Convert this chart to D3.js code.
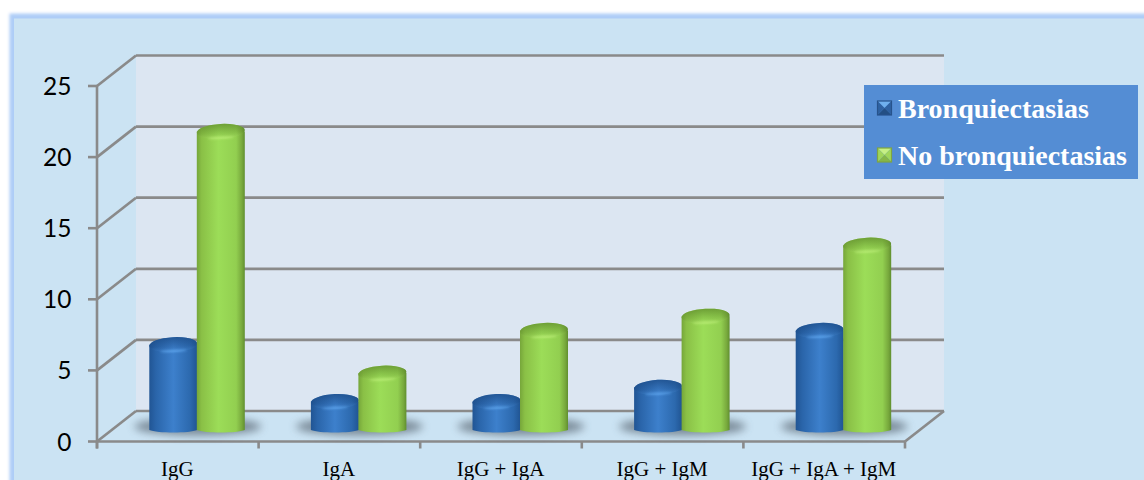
<!DOCTYPE html>
<html>
<head>
<meta charset="utf-8">
<script src="https://cdn.jsdelivr.net/npm/d3@7/dist/d3.min.js"></script>
<style>
html,body{margin:0;padding:0;background:#fff;overflow:hidden}
svg{display:block}
</style>
</head>
<body>
<svg id="chart" width="1144" height="480"></svg>
<script>
// Immunoglobulin deficiency groups by bronchiectasis status
const categories = ["IgG", "IgA", "IgG + IgA", "IgG + IgM", "IgG + IgA + IgM"];
const bronquiectasias = [6, 2, 2, 3, 7];
const noBronquiectasias = [21, 4, 7, 8, 13];
const yTicks = [0, 5, 10, 15, 20, 25];
const seriesNames = ["Bronquiectasias", "No bronquiectasias"];

const svg = d3.select("#chart");
const defs = svg.append("defs");

// Plot box: front plane plus the depth offset of the back wall
const front = {left: 97, right: 905, bottom: 441.5, top: 86};
const depth = {dx: 39, dy: -30.5};
const y = d3.scaleLinear().domain([0, 25]).range([front.bottom, front.top]);
const x = d3.scaleBand().domain(categories).range([front.left, front.right]);
const gridColor = "#8a8a8a";

// Horizontal shading for cylinder bodies and a top-lit fade for the caps
function hGrad(id, stops) {
  const g = defs.append("linearGradient").attr("id", id);
  stops.forEach(([o, c]) => g.append("stop").attr("offset", o).attr("stop-color", c));
}
hGrad("blueBody", [[0, "#215594"], [0.14, "#2a65aa"], [0.5, "#3d80cc"], [0.85, "#2c69ae"], [1, "#205492"]]);
hGrad("greenBody", [[0, "#76a63a"], [0.1, "#8ac046"], [0.45, "#9cdd58"], [0.82, "#92cf50"], [0.94, "#78a93d"], [1, "#608f2f"]]);

function capFade(id, dark, light) {
  const g = defs.append("linearGradient").attr("id", id).attr("x1", 0).attr("x2", 0).attr("y1", 0).attr("y2", 1);
  g.append("stop").attr("offset", 0).attr("stop-color", dark).attr("stop-opacity", 0.75);
  g.append("stop").attr("offset", 0.6).attr("stop-color", dark).attr("stop-opacity", 0.25);
  g.append("stop").attr("offset", 1).attr("stop-color", light).attr("stop-opacity", 0.25);
}
capFade("blueCap", "#1b4a85", "#5aa0ec");
capFade("greenCap", "#5f8c2c", "#b8ee74");

defs.append("filter").attr("id", "soft").attr("x", "-5%").attr("y", "-5%").attr("width", "110%").attr("height", "110%")
  .append("feGaussianBlur").attr("stdDeviation", 1.6);
defs.append("filter").attr("id", "shadowBlur").attr("x", "-30%").attr("y", "-100%").attr("width", "160%").attr("height", "300%")
  .append("feGaussianBlur").attr("stdDeviation", 4);
defs.append("filter").attr("id", "glint").attr("x", "-30%").attr("y", "-300%").attr("width", "160%").attr("height", "700%")
  .append("feGaussianBlur").attr("stdDeviation", 1.1);

// Slide panel with its pale blue border
svg.append("rect").attr("x", 9.5).attr("y", 13.5).attr("width", 1200).attr("height", 520)
  .attr("fill", "#aecdf7").attr("filter", "url(#soft)");
svg.append("rect").attr("x", 14).attr("y", 18.5).attr("width", 1140).attr("height", 480).attr("fill", "#cbe3f3");

// Back wall
svg.append("rect")
  .attr("x", front.left + depth.dx).attr("y", y(25) + depth.dy)
  .attr("width", front.right - front.left)
  .attr("height", y(0) - y(25))
  .attr("fill", "#dce6f2");

// Gridlines: one run across the back wall, one diagonal down the side wall
const grid = svg.append("g").attr("stroke", gridColor).attr("stroke-width", 2.7).attr("fill", "none");
grid.selectAll("line.back").data(yTicks).join("line").attr("class", "back")
  .attr("x1", front.left + depth.dx).attr("x2", front.right + depth.dx)
  .attr("y1", d => y(d) + depth.dy).attr("y2", d => y(d) + depth.dy);
grid.selectAll("line.side").data(yTicks).join("line").attr("class", "side")
  .attr("x1", front.left).attr("x2", front.left + depth.dx)
  .attr("y1", d => y(d)).attr("y2", d => y(d) + depth.dy);
grid.append("line").attr("x1", front.right).attr("x2", front.right + depth.dx)
  .attr("y1", y(0)).attr("y2", y(0) + depth.dy);

// Front axes and tick marks
const axisG = svg.append("g").attr("stroke", gridColor).attr("stroke-width", 2.6);
axisG.append("line").attr("x1", front.left).attr("x2", front.left).attr("y1", y(25)).attr("y2", y(0) + 7);
axisG.append("line").attr("x1", front.left).attr("x2", front.right).attr("y1", y(0)).attr("y2", y(0));
axisG.selectAll("line.yt").data(yTicks).join("line").attr("class", "yt")
  .attr("x1", front.left - 9).attr("x2", front.left).attr("y1", d => y(d)).attr("y2", d => y(d));
const xEdges = categories.map(c => x(c)).concat(front.right);
axisG.selectAll("line.xt").data(xEdges).join("line").attr("class", "xt")
  .attr("x1", d => d).attr("x2", d => d).attr("y1", y(0)).attr("y2", y(0) + 7);

svg.selectAll("text.ylab").data(yTicks).join("text").attr("class", "ylab")
  .attr("x", 71.5).attr("y", d => y(d) + 9)
  .attr("text-anchor", "end")
  .attr("font-family", "Lato, 'Open Sans', sans-serif").attr("font-size", 24.5).attr("fill", "#000")
  .text(d => d);

svg.selectAll("text.xlab").data(categories).join("text").attr("class", "xlab")
  .attr("x", d => x(d) + x.bandwidth() / 2 - 0.5).attr("y", 476)
  .attr("text-anchor", "middle")
  .attr("font-family", "'Liberation Serif', serif").attr("font-size", 21).attr("fill", "#000")
  .text(d => d);

// Cylinders stand mid-way between the front and back planes
const barW = 48;
const baseDy = -11.5;
const capRy = 7.5, footRy = 2.5;
const centre = c => x(c) + x.bandwidth() / 2 + depth.dx / 2 - 0.5;
const rows = categories.map((c, i) => ({c, a: bronquiectasias[i], b: noBronquiectasias[i]}));

// Floor shadows sit beneath each pair
svg.append("g").selectAll("ellipse").data(rows).join("ellipse")
  .attr("cx", d => centre(d.c) + 1)
  .attr("cy", y(0) - 15)
  .attr("rx", barW * 1.32).attr("ry", 9)
  .attr("fill", "#4f5b68").attr("opacity", 0.66)
  .attr("filter", "url(#shadowBlur)");

function cylinder(sel, left, value, body, cap, glint) {
  const top = y(value) + baseDy;
  const base = y(0) + baseDy;
  const r = barW / 2;
  const p = d3.path();
  p.moveTo(left, top);
  p.lineTo(left, base);
  p.bezierCurveTo(left + 8, base + footRy * 1.35, left + barW - 8, base + footRy * 1.35, left + barW, base);
  p.lineTo(left + barW, top);
  p.closePath();
  sel.append("path").attr("d", p.toString()).attr("fill", `url(#${body})`);
  const capG = sel.append("g").attr("transform", `rotate(-3 ${left + r} ${top})`);
  capG.append("ellipse").attr("cx", left + r).attr("cy", top).attr("rx", r).attr("ry", capRy)
    .attr("fill", `url(#${body})`);
  capG.append("ellipse").attr("cx", left + r).attr("cy", top).attr("rx", r).attr("ry", capRy)
    .attr("fill", `url(#${cap})`);
  // Bright rim along the near edge of the cap
  capG.append("ellipse").attr("cx", left + r).attr("cy", top + capRy - 1.2).attr("rx", r * 0.55).attr("ry", 1)
    .attr("fill", glint).attr("opacity", 0.75).attr("filter", "url(#glint)");
}

const bars = svg.append("g");
rows.forEach(d => {
  const cx = centre(d.c);
  cylinder(bars.append("g"), cx - barW + 0.5, d.a, "blueBody", "blueCap", "#66aef5");
  cylinder(bars.append("g"), cx, d.b, "greenBody", "greenCap", "#c2f27e");
});

// Legend box with pyramid-shaded swatches
const legend = svg.append("g");
legend.append("rect").attr("x", 864).attr("y", 85).attr("width", 274).attr("height", 94).attr("fill", "#548dd4");
const swatchColors = [
  {top: "#6fb0ee", side: "#2f62a2", bottom: "#234f85", edge: "#27538c"},
  {top: "#c6f084", side: "#a0d65a", bottom: "#86b748", edge: "#7fa542"}
];
const legendRows = seriesNames.map((n, i) => ({name: n, col: swatchColors[i], yc: [108, 155][i]}));
const s = 7;
const rowG = legend.selectAll("g").data(legendRows).join("g");
rowG.each(function(d) {
  const g = d3.select(this);
  const cx = 884.5, cy = d.yc;
  const tri = (pts, fill) => g.append("polygon").attr("points", pts.map(q => q.join(",")).join(" ")).attr("fill", fill);
  const a = [cx - s, cy - s], b = [cx + s, cy - s], e = [cx + s, cy + s], f = [cx - s, cy + s], m = [cx, cy];
  tri([a, b, m], d.col.top);
  tri([b, e, m], d.col.side);
  tri([e, f, m], d.col.bottom);
  tri([f, a, m], d.col.side);
  g.append("rect").attr("x", cx - s).attr("y", cy - s).attr("width", 2 * s).attr("height", 2 * s)
    .attr("fill", "none").attr("stroke", d.col.edge).attr("stroke-width", 1.2);
});
rowG.append("text")
  .attr("x", 898).attr("y", d => d.yc + 9.5)
  .attr("font-family", "'Liberation Serif', serif").attr("font-weight", "bold")
  .attr("font-size", 28).attr("fill", "#fff")
  .text(d => d.name);
</script>
</body>
</html>
